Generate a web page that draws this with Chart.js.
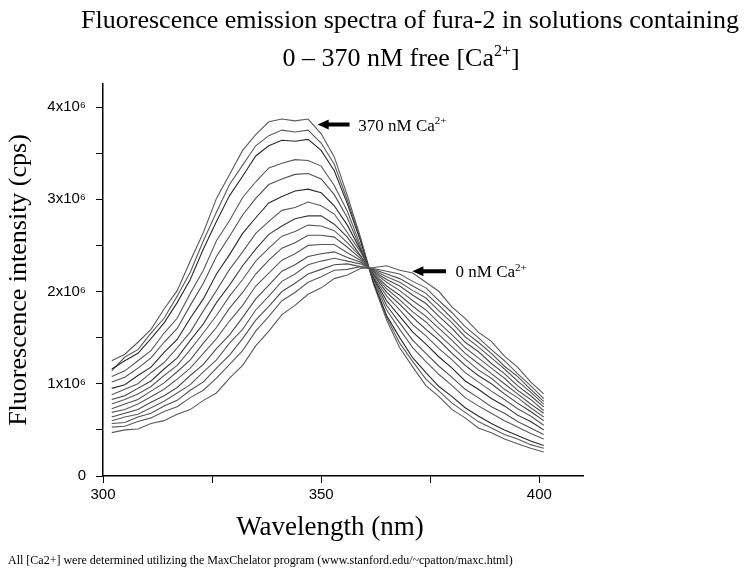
<!DOCTYPE html>
<html>
<head>
<meta charset="utf-8">
<script src="https://cdn.jsdelivr.net/npm/chart.js@4.4.1/dist/chart.umd.min.js"></script>
<style>
  html, body { margin: 0; padding: 0; background: #fff; }
</style>
</head>
<body>
<canvas id="myChart" width="748" height="576"></canvas>
<script>
// emission wavelength (nm)
const wavelengths = [302, 305, 308, 311, 314, 317, 320, 323, 326, 329, 332, 335, 338, 341, 344, 347, 350,
                     353, 356, 359, 362, 365, 368, 371, 374, 377, 380, 383, 386, 389, 392, 395, 398, 401];

// intensity in units of 10^6 cps, one array per [Ca2+] step, 0 nM first, 370 nM last
const ca00 = [0.47,0.50,0.51,0.57,0.60,0.67,0.72,0.82,0.90,1.06,1.20,1.41,1.57,1.75,1.85,1.97,2.04,2.14,2.18,2.25,2.26,2.28,2.23,2.20,2.10,2.00,1.83,1.71,1.56,1.46,1.30,1.18,1.02,0.89];
const ca01 = [0.53,0.54,0.59,0.63,0.70,0.75,0.85,0.93,1.06,1.21,1.36,1.57,1.73,1.90,1.99,2.10,2.16,2.23,2.24,2.27,2.25,2.22,2.19,2.11,2.04,1.90,1.77,1.62,1.50,1.37,1.25,1.11,0.98,0.84];
const ca02 = [0.57,0.58,0.64,0.68,0.76,0.82,0.93,1.02,1.17,1.31,1.49,1.69,1.84,2.00,2.09,2.19,2.24,2.29,2.30,2.27,2.24,2.19,2.14,2.06,1.98,1.85,1.71,1.56,1.45,1.33,1.19,1.08,0.94,0.81];
const ca03 = [0.60,0.64,0.67,0.74,0.81,0.90,0.99,1.13,1.26,1.44,1.59,1.80,1.95,2.11,2.19,2.29,2.33,2.36,2.33,2.30,2.23,2.16,2.10,2.01,1.93,1.79,1.66,1.51,1.40,1.28,1.16,1.03,0.91,0.78];
const ca04 = [0.64,0.68,0.72,0.80,0.87,0.96,1.09,1.21,1.38,1.53,1.72,1.92,2.07,2.22,2.29,2.38,2.41,2.43,2.37,2.32,2.22,2.13,2.06,1.96,1.87,1.73,1.60,1.45,1.35,1.22,1.11,0.98,0.87,0.75];
const ca05 = [0.69,0.72,0.78,0.86,0.94,1.05,1.17,1.33,1.49,1.68,1.85,2.06,2.20,2.34,2.41,2.50,2.51,2.51,2.42,2.34,2.21,2.10,2.01,1.90,1.80,1.66,1.53,1.39,1.28,1.17,1.06,0.93,0.83,0.71];
const ca06 = [0.73,0.78,0.83,0.92,1.01,1.13,1.26,1.44,1.61,1.82,1.99,2.19,2.34,2.47,2.53,2.61,2.61,2.59,2.48,2.36,2.20,2.06,1.96,1.84,1.73,1.60,1.47,1.33,1.22,1.11,1.00,0.89,0.78,0.68];
const ca07 = [0.78,0.83,0.89,0.97,1.09,1.20,1.37,1.55,1.74,1.95,2.13,2.33,2.47,2.60,2.65,2.72,2.71,2.66,2.53,2.38,2.19,2.03,1.91,1.78,1.67,1.53,1.40,1.27,1.15,1.06,0.94,0.85,0.74,0.64];
const ca08 = [0.83,0.87,0.95,1.03,1.16,1.28,1.47,1.65,1.88,2.07,2.28,2.46,2.62,2.71,2.79,2.82,2.82,2.73,2.59,2.39,2.18,1.99,1.86,1.72,1.59,1.47,1.33,1.20,1.09,1.00,0.89,0.79,0.70,0.60];
const ca09 = [0.88,0.94,1.00,1.12,1.23,1.39,1.56,1.79,2.01,2.24,2.43,2.63,2.76,2.88,2.91,2.97,2.93,2.84,2.64,2.43,2.16,1.95,1.80,1.64,1.52,1.38,1.26,1.12,1.02,0.92,0.83,0.73,0.65,0.55];
const ca10 = [0.95,0.99,1.09,1.18,1.34,1.48,1.71,1.92,2.19,2.40,2.63,2.80,2.96,3.03,3.09,3.11,3.07,2.93,2.72,2.45,2.15,1.90,1.73,1.56,1.43,1.29,1.17,1.03,0.94,0.84,0.76,0.66,0.59,0.50];
const ca11 = [1.02,1.07,1.17,1.28,1.45,1.60,1.85,2.09,2.38,2.60,2.83,3.01,3.16,3.22,3.27,3.28,3.22,3.05,2.80,2.47,2.14,1.85,1.66,1.47,1.33,1.19,1.07,0.94,0.85,0.75,0.68,0.59,0.52,0.45];
const ca12 = [1.08,1.14,1.25,1.36,1.55,1.71,1.98,2.23,2.55,2.77,3.02,3.19,3.34,3.39,3.43,3.42,3.36,3.15,2.87,2.50,2.12,1.80,1.59,1.39,1.24,1.10,0.98,0.85,0.76,0.68,0.60,0.53,0.46,0.40];
const ca13 = [1.16,1.25,1.33,1.49,1.66,1.88,2.13,2.46,2.76,3.04,3.25,3.47,3.58,3.64,3.63,3.65,3.53,3.31,2.95,2.55,2.10,1.74,1.50,1.28,1.12,0.97,0.86,0.74,0.65,0.57,0.50,0.44,0.38,0.33];
const ca14 = [1.14,1.29,1.37,1.55,1.71,1.95,2.21,2.55,2.86,3.16,3.37,3.58,3.69,3.75,3.73,3.75,3.61,3.38,2.99,2.57,2.09,1.72,1.44,1.24,1.05,0.92,0.79,0.69,0.59,0.52,0.45,0.40,0.34,0.30];
const ca15 = [1.25,1.32,1.45,1.59,1.81,2.01,2.33,2.64,3.01,3.27,3.53,3.70,3.84,3.87,3.85,3.87,3.71,3.46,3.04,2.59,2.08,1.69,1.39,1.18,0.98,0.86,0.72,0.63,0.52,0.47,0.40,0.35,0.30,0.26];

const spectra = [ca00, ca01, ca02, ca03, ca04, ca05, ca06, ca07, ca08, ca09, ca10, ca11, ca12, ca13, ca14, ca15];
const lineColors = ['#5a5a5a', '#5a5a5a', '#505050', '#5a5a5a', '#4a4a4a', '#5a5a5a', '#505050', '#5a5a5a',
                    '#3a3a3a', '#5a5a5a', '#2a2a2a', '#505050', '#5a5a5a', '#2a2a2a', '#5a5a5a', '#5a5a5a'];

const yTicksMajor = [0, 1, 2, 3, 4];
const xTicksLabelled = [300, 350, 400];

const serif = "'Liberation Serif', 'Times New Roman', serif";
const sans = "'Liberation Sans', Arial, sans-serif";

// draws text pieces, some as superscript, starting at x (or centred on x)
function drawRich(ctx, parts, x, y, size, centre) {
  const supSize = Math.round(size * 0.62);
  let w = 0;
  parts.forEach(p => {
    ctx.font = (p.sup ? supSize : size) + 'px ' + serif;
    w += ctx.measureText(p.t).width;
  });
  let cx = centre ? x - w / 2 : x;
  parts.forEach(p => {
    ctx.font = (p.sup ? supSize : size) + 'px ' + serif;
    ctx.fillText(p.t, cx, p.sup ? y - size * 0.38 : y);
    cx += ctx.measureText(p.t).width;
  });
}

function drawArrow(ctx, xTip, xTail, y) {
  ctx.beginPath();
  ctx.moveTo(xTip, y);
  ctx.lineTo(xTip + 11, y - 5);
  ctx.lineTo(xTip + 11, y - 2);
  ctx.lineTo(xTail, y - 2);
  ctx.lineTo(xTail, y + 2);
  ctx.lineTo(xTip + 11, y + 2);
  ctx.lineTo(xTip + 11, y + 5);
  ctx.closePath();
  ctx.fill();
}

const figureText = {
  id: 'figureText',
  afterDraw(chart) {
    const ctx = chart.ctx;
    const x = chart.scales.x;
    const y = chart.scales.y;
    ctx.save();
    ctx.fillStyle = '#000';
    ctx.textBaseline = 'alphabetic';
    ctx.textAlign = 'left';

    // heading
    ctx.font = '26px ' + serif;
    const head = 'Fluorescence emission spectra of fura-2 in solutions containing';
    ctx.fillText(head, 410 - ctx.measureText(head).width / 2, 28);
    drawRich(ctx, [{t: '0 \u2013 370 nM free [Ca'}, {t: '2+', sup: true}, {t: ']'}], 401, 66, 26, true);

    // x axis title
    ctx.font = '27px ' + serif;
    const xt = 'Wavelength (nm)';
    ctx.fillText(xt, 330 - ctx.measureText(xt).width / 2, 535);

    // annotations
    const a1y = y.getPixelForValue(3.81);
    drawArrow(ctx, x.getPixelForValue(349.2), x.getPixelForValue(356.5), a1y);
    drawRich(ctx, [{t: '370 nM Ca'}, {t: '2+', sup: true}], x.getPixelForValue(358.5), a1y + 6, 17, false);

    const a2y = y.getPixelForValue(2.22);
    drawArrow(ctx, x.getPixelForValue(370.9), x.getPixelForValue(378.6), a2y);
    drawRich(ctx, [{t: '0 nM Ca'}, {t: '2+', sup: true}], x.getPixelForValue(380.8), a2y + 6, 17, false);

    // footnote
    ctx.font = '12px ' + serif;
    ctx.fillText('All [Ca2+] were determined utilizing the MaxChelator program (www.stanford.edu/~cpatton/maxc.html)', 8, 564);
    ctx.restore();
  }
};

const ctx = document.getElementById('myChart').getContext('2d');

const myChart = new Chart(ctx, {
  type: 'line',
  data: {
    datasets: spectra.map((s, i) => ({
      label: 'spectrum ' + (i + 1),
      data: s.map((v, j) => ({x: wavelengths[j], y: v})),
      borderColor: lineColors[i],
      borderWidth: 1.1,
      pointRadius: 0,
      tension: 0,
      fill: false
    }))
  },
  options: {
    responsive: false,
    animation: false,
    devicePixelRatio: 1,
    layout: { padding: { left: 0, right: 165, top: 84, bottom: 30 } },
    plugins: {
      legend: { display: false },
      tooltip: { enabled: false }
    },
    scales: {
      x: {
        type: 'linear',
        min: 300,
        max: 410,
        afterFit: s => { s.height = 70; },
        border: { color: '#000', width: 1.5 },
        grid: { drawOnChartArea: false, drawTicks: true, tickLength: 7, color: '#000' },
        ticks: {
          stepSize: 25,
          includeBounds: false,
          autoSkip: false,
          maxRotation: 0,
          padding: 3,
          color: '#000',
          font: { family: sans, size: 15 },
          callback: v => xTicksLabelled.includes(v) ? String(v) : ''
        }
      },
      y: {
        min: 0,
        max: 4.25,
        afterFit: s => { s.width = 103; },
        border: { color: '#000', width: 1.5 },
        grid: { drawOnChartArea: false, drawTicks: true, tickLength: 7, color: '#000' },
        title: {
          display: true,
          text: 'Fluorescence intensity (cps)',
          color: '#000',
          font: { family: serif, size: 26 },
          padding: { top: 4, bottom: 0 }
        },
        ticks: {
          stepSize: 0.5,
          includeBounds: false,
          padding: 10,
          color: '#000',
          font: { family: sans, size: 15 },
          callback: v => yTicksMajor.includes(v) ? (v === 0 ? '0' : v + 'x10\u2076') : ''
        }
      }
    }
  },
  plugins: [figureText]
});
</script>
</body>
</html>
